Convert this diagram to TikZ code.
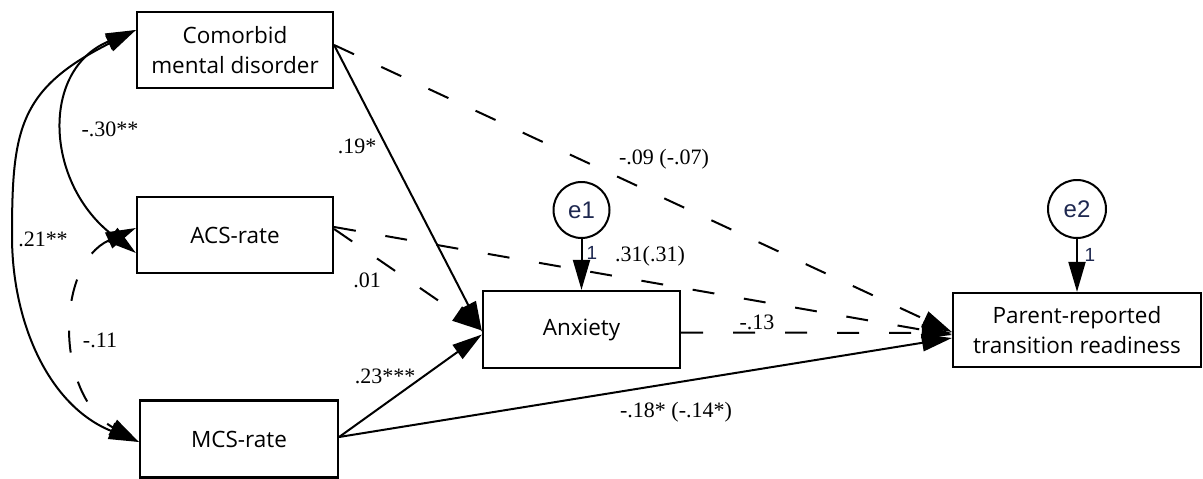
\documentclass[tikz,border=0pt]{standalone}
\usepackage{fontspec}
\setmainfont{Liberation Serif}
\newfontfamily\boxfont{Open Sans}
\newfontfamily\errfont{Liberation Sans}
\usetikzlibrary{arrows.meta,calc}
\definecolor{errcol}{RGB}{30,40,80}
\begin{document}
\begin{tikzpicture}[x=1pt,y=-1pt,
  var/.style={draw,line width=2.2pt,minimum width=196pt,minimum height=76pt,inner sep=0pt,
    font=\boxfont\fontsize{22.5}{30}\selectfont,align=center},
  err/.style={draw,circle,line width=2pt,minimum size=56pt,inner sep=0pt,
    font=\errfont\fontsize{24}{24}\selectfont,text=errcol},
  conn/.style={line width=2pt,-{Triangle[length=30pt,width=17pt]}},
  cov/.style={line width=2pt,{Triangle[length=30pt,width=17pt]}-{Triangle[length=30pt,width=17pt]}},
  dsh/.style={dash pattern=on 22pt off 30pt},
  coef/.style={font=\fontsize{22}{22}\selectfont,inner sep=0pt},
  one/.style={font=\errfont\fontsize{19}{19}\selectfont,text=errcol,inner sep=0pt}]
\fill[white] (0,0) rectangle (1203,479);
\useasboundingbox (0,0) rectangle (1203,479);

% variables
\node[var] (com) at (235,50) {Comorbid\\mental disorder};
\node[var] (acs) at (235,235) {ACS-rate};
\node[var,minimum width=198pt,minimum height=77pt] (mcs) at (239,439) {MCS-rate};
\node[var,minimum width=197pt,minimum height=77pt] (anx) at (581.5,329.5) {Anxiety};
\node[var,minimum width=248pt,minimum height=74pt] (par) at (1077,330) {Parent-reported\\transition readiness};
\node[err] (e1) at (581.5,210) {e1};
\node[err,minimum size=58pt] (e2) at (1077,209) {e2};

% anchor points
\coordinate (comE) at ([yshift=5pt]com.east);
\coordinate (acsE1) at ([yshift=8pt]acs.east);
\coordinate (acsE2) at ([yshift=6pt]acs.east);
\coordinate (mcsE) at ([yshift=2pt]mcs.east);
\coordinate (anxE) at ([yshift=-3pt]anx.east);
\coordinate (comW) at ([yshift=20pt]com.west);
\coordinate (acsWt) at ([yshift=7pt]acs.west);
\coordinate (acsWb) at ([yshift=-18pt]acs.west);
\coordinate (mcsW) at ([yshift=-3pt]mcs.west);
\coordinate (left) at (12,236);

% regression paths
\draw[conn] (comE) -- ([yshift=-2pt]anx.west);
\draw[conn,dsh] (comE) -- ([yshift=-2pt]par.west);
\draw[conn,dsh] (acsE1) -- ([yshift=-5pt]par.west);
\draw[conn,dsh] (acsE2) -- ([yshift=-1pt]anx.west);
\draw[conn] (mcsE) -- ([yshift=-5pt]anx.west);
\draw[conn] (mcsE) -- ([yshift=-8pt]par.west);
\draw[conn,dsh] (anxE) -- ([yshift=-3pt]par.west);
\draw[conn] (e1) -- (anx);
\draw[conn] (e2) -- (par);

% covariances
\draw[cov] (comW) .. controls (19,89) and (12,129) .. (left)
  .. controls (12,323) and (49,406) .. (mcsW);
\draw[cov] (comW) .. controls (40,70) and (45,183) .. (acsWb);
\draw[cov,dsh] (acsWt) .. controls (55,265) and (55,395) .. (mcsW);

% labels
\node[coef] (l19) at (357,146) {.19*};
\node[coef] (l09) at (664,159) {-.09 (-.07)};
\node[coef] (l31) at (650,256) {.31(.31)};
\node[coef] (l01) at (367,280) {.01};
\node[coef] (l23) at (385,376) {.23***};
\node[coef] (l18) at (676,412) {-.18* (-.14*)};
\node[coef] (l13) at (757,322) {-.13};
\node[coef] (l30) at (110,129) {-.30**};
\node[coef] (l21) at (43,239) {.21**};
\node[coef] (l11) at (100,340) {-.11};
\node[one] (o1) at (592,253) {1};
\node[one] (o2) at (1090,255) {1};
\end{tikzpicture}
\end{document}
